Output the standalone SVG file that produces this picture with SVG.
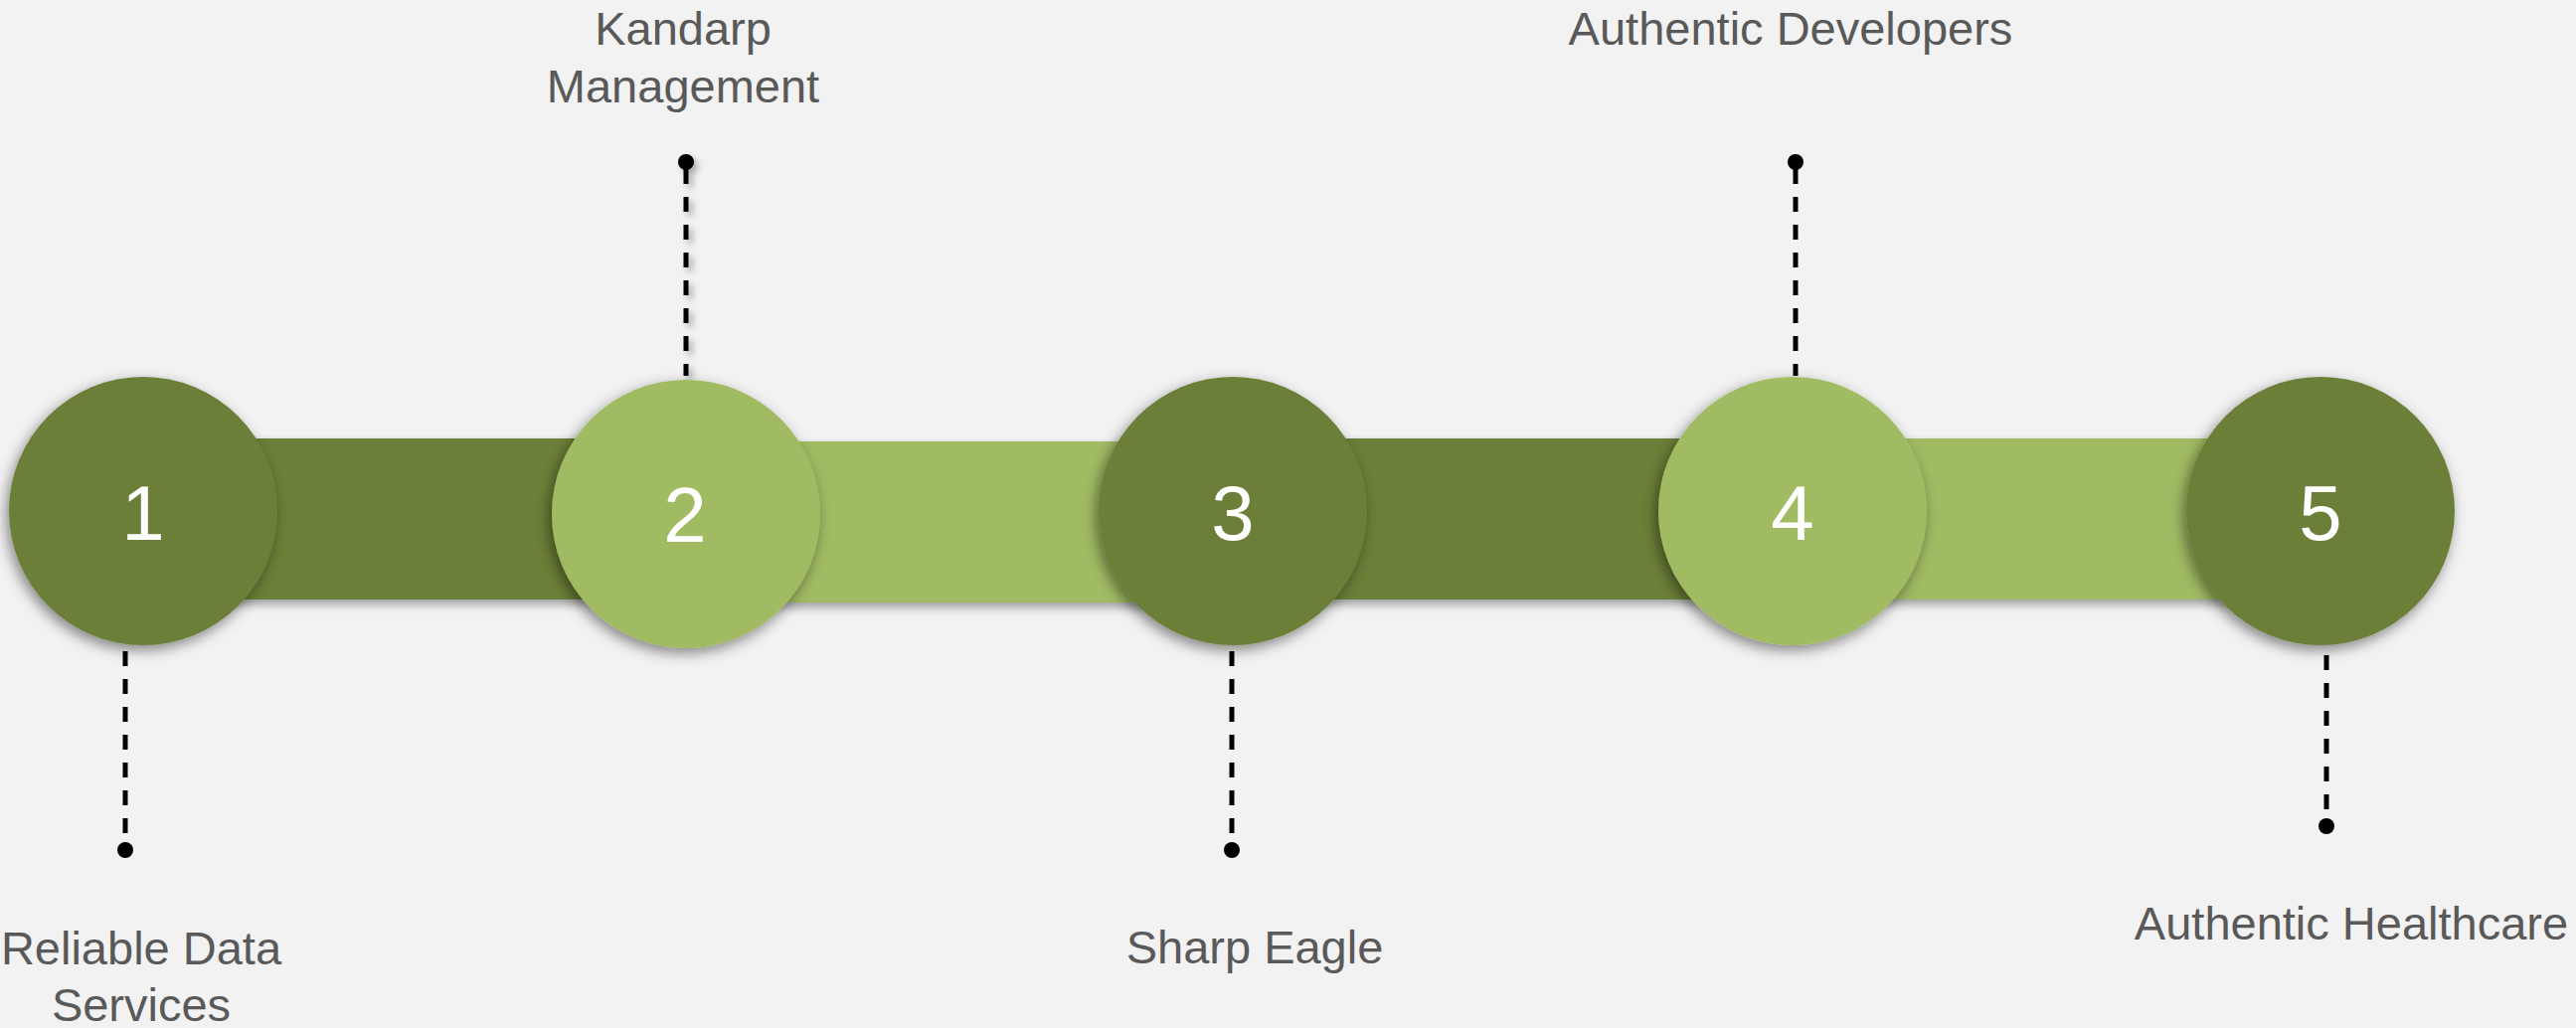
<svg xmlns="http://www.w3.org/2000/svg" width="2591" height="1034" viewBox="0 0 2591 1034">
  <defs>
    <filter id="sh" x="-30%" y="-30%" width="160%" height="160%">
      <feDropShadow dx="-3" dy="5" stdDeviation="7" flood-color="#000" flood-opacity="0.45"/>
    </filter>
    <filter id="shbar" x="-10%" y="-30%" width="120%" height="160%">
      <feDropShadow dx="0" dy="5" stdDeviation="5" flood-color="#000" flood-opacity="0.35"/>
    </filter>
    <filter id="shline" x="-200%" y="-10%" width="500%" height="120%">
      <feDropShadow dx="4" dy="4" stdDeviation="3" flood-color="#000" flood-opacity="0.3"/>
    </filter>
    <style>
      .dark{fill:#6C7F38}
      .light{fill:#A1BB63}
      .num{font-family:"Liberation Sans",Arial,sans-serif;font-size:78px;fill:#ffffff;text-anchor:middle}
      .lbl{font-family:"Liberation Sans",Arial,sans-serif;font-size:47px;fill:#595959;text-anchor:middle}
      .lead{stroke:#000;stroke-width:5;stroke-dasharray:15 13;fill:none}
      .dot{fill:#000}
    </style>
  </defs>
  <rect width="2591" height="1034" fill="#F2F2F2"/>

  <g id="connectors">
    <rect class="dark" x="144" y="441" width="546" height="162" filter="url(#shbar)"/>
    <rect class="light" x="690" y="444" width="550" height="162" filter="url(#shbar)"/>
    <rect class="dark" x="1240" y="441" width="563" height="162" filter="url(#shbar)"/>
    <rect class="light" x="1803" y="441" width="531" height="162" filter="url(#shbar)"/>

    <g filter="url(#shline)">
      <line class="lead" x1="690" y1="170" x2="690" y2="378"/>
      <circle class="dot" cx="690" cy="163" r="8"/>
    </g>
    <line class="lead" x1="1806" y1="170" x2="1806" y2="378"/>
    <circle class="dot" cx="1806" cy="163" r="8"/>

    <line class="lead" x1="126" y1="655" x2="126" y2="848"/>
    <circle class="dot" cx="126" cy="855" r="8"/>
    <line class="lead" x1="1239" y1="655" x2="1239" y2="848"/>
    <circle class="dot" cx="1239" cy="855" r="8"/>
    <line class="lead" x1="2340" y1="659" x2="2340" y2="824"/>
    <circle class="dot" cx="2340" cy="831" r="8"/>
  </g>

  <g id="node1">
    <circle class="dark" cx="144" cy="514" r="135" filter="url(#sh)"/>
    <text class="num" x="144" y="543">1</text>
    <text class="lbl" x="142" y="970">Reliable Data</text>
    <text class="lbl" x="142" y="1027">Services</text>
  </g>
  <g id="node2">
    <circle class="light" cx="690" cy="517" r="135" filter="url(#sh)"/>
    <text class="num" x="689" y="545">2</text>
    <text class="lbl" x="687" y="45">Kandarp</text>
    <text class="lbl" x="687" y="103">Management</text>
  </g>
  <g id="node3">
    <circle class="dark" cx="1240" cy="514" r="135" filter="url(#sh)"/>
    <text class="num" x="1240" y="543">3</text>
    <text class="lbl" x="1262" y="969">Sharp Eagle</text>
  </g>
  <g id="node4">
    <circle class="light" cx="1803" cy="514" r="135" filter="url(#sh)"/>
    <text class="num" x="1803" y="543">4</text>
    <text class="lbl" x="1801" y="45">Authentic Developers</text>
  </g>
  <g id="node5">
    <circle class="dark" cx="2334" cy="514" r="135" filter="url(#sh)"/>
    <text class="num" x="2334" y="543">5</text>
    <text class="lbl" x="2365" y="945">Authentic Healthcare</text>
  </g>
</svg>
